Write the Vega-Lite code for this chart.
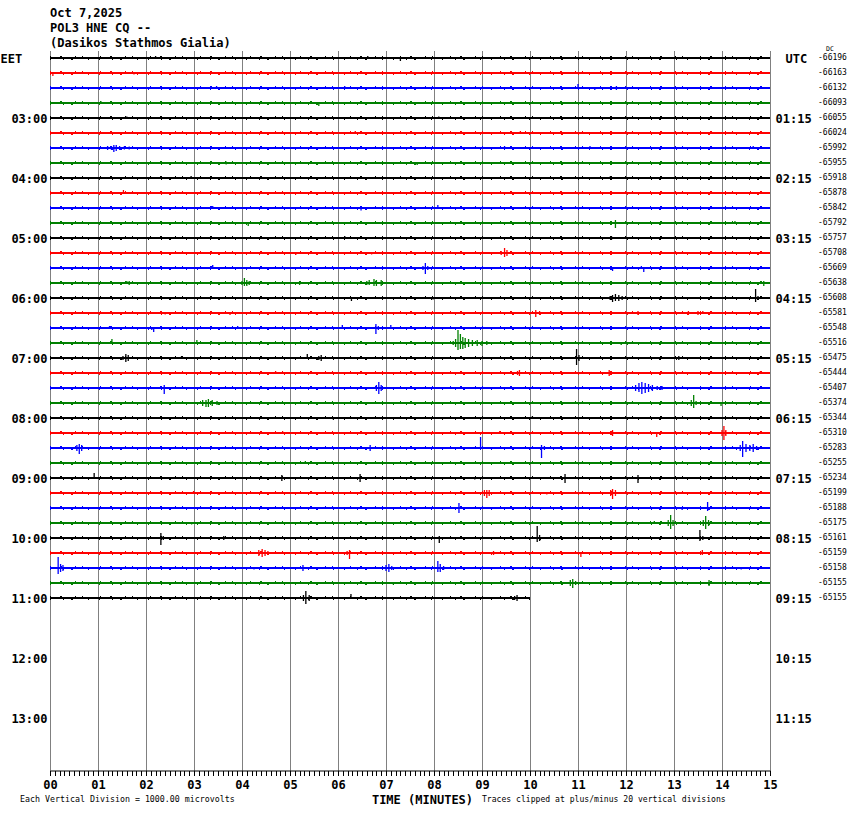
{
  "$schema": "https://vega.github.io/schema/vega-lite/v6.json",
  "width": 720,
  "height": 720,
  "autosize": {"type": "none"},
  "padding": {"left": 50, "top": 50.5, "right": 80, "bottom": 43.5},
  "background": "white",
  "title": {
    "text": ["Oct 7,2025", "POL3 HNE CQ --", "(Dasikos Stathmos Gialia)"],
    "anchor": "start", "frame": "group", "font": "DejaVu Sans Mono", "fontSize": 12,
    "fontWeight": "bold", "lineHeight": 15, "offset": 0, "dy": 4, "color": "black"
  },
  "config": {"view": {"stroke": null}},
  "datasets": {
    "traces": [
      {"y": 0, "start": 0, "end": 15, "c": "black", "dc": "-66196"},
      {"y": 15, "start": 0, "end": 15, "c": "red", "dc": "-66163"},
      {"y": 30, "start": 0, "end": 15, "c": "blue", "dc": "-66132"},
      {"y": 45, "start": 0, "end": 15, "c": "green", "dc": "-66093"},
      {"y": 60, "start": 0, "end": 15, "c": "black", "dc": "-66055"},
      {"y": 75, "start": 0, "end": 15, "c": "red", "dc": "-66024"},
      {"y": 90, "start": 0, "end": 15, "c": "blue", "dc": "-65992"},
      {"y": 105, "start": 0, "end": 15, "c": "green", "dc": "-65955"},
      {"y": 120, "start": 0, "end": 15, "c": "black", "dc": "-65918"},
      {"y": 135, "start": 0, "end": 15, "c": "red", "dc": "-65878"},
      {"y": 150, "start": 0, "end": 15, "c": "blue", "dc": "-65842"},
      {"y": 165, "start": 0, "end": 15, "c": "green", "dc": "-65792"},
      {"y": 180, "start": 0, "end": 15, "c": "black", "dc": "-65757"},
      {"y": 195, "start": 0, "end": 15, "c": "red", "dc": "-65708"},
      {"y": 210, "start": 0, "end": 15, "c": "blue", "dc": "-65669"},
      {"y": 225, "start": 0, "end": 15, "c": "green", "dc": "-65638"},
      {"y": 240, "start": 0, "end": 15, "c": "black", "dc": "-65608"},
      {"y": 255, "start": 0, "end": 15, "c": "red", "dc": "-65581"},
      {"y": 270, "start": 0, "end": 15, "c": "blue", "dc": "-65548"},
      {"y": 285, "start": 0, "end": 15, "c": "green", "dc": "-65516"},
      {"y": 300, "start": 0, "end": 15, "c": "black", "dc": "-65475"},
      {"y": 315, "start": 0, "end": 15, "c": "red", "dc": "-65444"},
      {"y": 330, "start": 0, "end": 15, "c": "blue", "dc": "-65407"},
      {"y": 345, "start": 0, "end": 15, "c": "green", "dc": "-65374"},
      {"y": 360, "start": 0, "end": 15, "c": "black", "dc": "-65344"},
      {"y": 375, "start": 0, "end": 15, "c": "red", "dc": "-65310"},
      {"y": 390, "start": 0, "end": 15, "c": "blue", "dc": "-65283"},
      {"y": 405, "start": 0, "end": 15, "c": "green", "dc": "-65255"},
      {"y": 420, "start": 0, "end": 15, "c": "black", "dc": "-65234"},
      {"y": 435, "start": 0, "end": 15, "c": "red", "dc": "-65199"},
      {"y": 450, "start": 0, "end": 15, "c": "blue", "dc": "-65188"},
      {"y": 465, "start": 0, "end": 15, "c": "green", "dc": "-65175"},
      {"y": 480, "start": 0, "end": 15, "c": "black", "dc": "-65161"},
      {"y": 495, "start": 0, "end": 15, "c": "red", "dc": "-65159"},
      {"y": 510, "start": 0, "end": 15, "c": "blue", "dc": "-65158"},
      {"y": 525, "start": 0, "end": 15, "c": "green", "dc": "-65155"},
      {"y": 540, "start": 0, "end": 10.0, "c": "black", "dc": "-65155"}
    ],
    "events": [
      {"c": "black", "t": 6.62, "y1": -2, "y2": 1}, {"c": "black", "t": 7.3, "y1": -1, "y2": 3}, {"c": "black", "t": 2.2, "y1": -2, "y2": 0.5},
      {"c": "red", "t": 0.06, "y1": 15, "y2": 18}, {"c": "red", "t": 12.0, "y1": 13, "y2": 15.5}, {"c": "red", "t": 1.75, "y1": 14, "y2": 16.5},
      {"c": "blue", "t": 3.47, "y1": 28, "y2": 30.5}, {"c": "blue", "t": 6.14, "y1": 28, "y2": 30.5}, {"c": "blue", "t": 11.0, "y1": 26, "y2": 31}, {"c": "blue", "t": 11.35, "y1": 29.5, "y2": 32}, {"c": "blue", "t": 11.8, "y1": 28, "y2": 32},
      {"c": "green", "t": 5.6, "y1": 44.5, "y2": 48}, {"c": "green", "t": 1.07, "y1": 43.5, "y2": 45.5},
      {"c": "black", "t": 1.6, "y1": 58.5, "y2": 61}, {"c": "black", "t": 8.1, "y1": 58.5, "y2": 61},
      {"c": "red", "t": 6.36, "y1": 73, "y2": 76}, {"c": "red", "t": 9.8, "y1": 73, "y2": 76},
      {"c": "blue", "t": 1.2, "y1": 88, "y2": 92}, {"c": "blue", "t": 1.28, "y1": 88, "y2": 92}, {"c": "blue", "t": 1.33, "y1": 87, "y2": 94}, {"c": "blue", "t": 1.38, "y1": 87, "y2": 93}, {"c": "blue", "t": 1.45, "y1": 88, "y2": 92}, {"c": "blue", "t": 1.55, "y1": 88, "y2": 91.5}, {"c": "blue", "t": 1.65, "y1": 88.5, "y2": 91.5}, {"c": "blue", "t": 9.47, "y1": 88, "y2": 91}, {"c": "blue", "t": 11.25, "y1": 88, "y2": 91}, {"c": "blue", "t": 14.65, "y1": 88, "y2": 91},
      {"c": "green", "t": 3.67, "y1": 103.5, "y2": 106.5}, {"c": "green", "t": 7.65, "y1": 104.5, "y2": 107},
      {"c": "black", "t": 2.94, "y1": 118, "y2": 120.5}, {"c": "black", "t": 11.67, "y1": 118.5, "y2": 121},
      {"c": "red", "t": 1.53, "y1": 132, "y2": 135.5},
      {"c": "blue", "t": 8.08, "y1": 147, "y2": 150.5}, {"c": "blue", "t": 3.39, "y1": 148, "y2": 151}, {"c": "blue", "t": 6.48, "y1": 149.5, "y2": 152.5},
      {"c": "green", "t": 4.13, "y1": 164.5, "y2": 168}, {"c": "green", "t": 11.78, "y1": 162, "y2": 170}, {"c": "green", "t": 14.27, "y1": 163, "y2": 165.5}, {"c": "green", "t": 14.82, "y1": 163.5, "y2": 166},
      {"c": "black", "t": 6.14, "y1": 178, "y2": 181}, {"c": "black", "t": 11.7, "y1": 178.5, "y2": 181.5},
      {"c": "red", "t": 9.4, "y1": 193, "y2": 197}, {"c": "red", "t": 9.47, "y1": 190, "y2": 199}, {"c": "red", "t": 9.52, "y1": 192, "y2": 198}, {"c": "red", "t": 5.12, "y1": 194.5, "y2": 197}, {"c": "red", "t": 6.7, "y1": 194.5, "y2": 196.5},
      {"c": "blue", "t": 3.39, "y1": 207, "y2": 210.5}, {"c": "blue", "t": 7.77, "y1": 208, "y2": 212}, {"c": "blue", "t": 7.82, "y1": 205, "y2": 216}, {"c": "blue", "t": 7.87, "y1": 208, "y2": 212}, {"c": "blue", "t": 11.72, "y1": 209.5, "y2": 213}, {"c": "blue", "t": 12.32, "y1": 208, "y2": 211}, {"c": "blue", "t": 12.37, "y1": 209.5, "y2": 214},
      {"c": "green", "t": 1.6, "y1": 223, "y2": 226}, {"c": "green", "t": 1.65, "y1": 223, "y2": 227}, {"c": "green", "t": 4.0, "y1": 223, "y2": 227}, {"c": "green", "t": 4.05, "y1": 220, "y2": 228}, {"c": "green", "t": 4.1, "y1": 222, "y2": 228}, {"c": "green", "t": 4.15, "y1": 223, "y2": 227}, {"c": "green", "t": 5.2, "y1": 223, "y2": 227}, {"c": "green", "t": 6.6, "y1": 223, "y2": 227}, {"c": "green", "t": 6.65, "y1": 222, "y2": 227}, {"c": "green", "t": 6.75, "y1": 221, "y2": 228}, {"c": "green", "t": 6.8, "y1": 222, "y2": 228}, {"c": "green", "t": 6.9, "y1": 222, "y2": 228}, {"c": "green", "t": 14.87, "y1": 223, "y2": 228},
      {"c": "black", "t": 6.28, "y1": 239, "y2": 243}, {"c": "black", "t": 7.98, "y1": 239, "y2": 241.5}, {"c": "black", "t": 11.67, "y1": 238, "y2": 242}, {"c": "black", "t": 11.72, "y1": 237, "y2": 244}, {"c": "black", "t": 11.78, "y1": 236, "y2": 243}, {"c": "black", "t": 11.85, "y1": 237, "y2": 243}, {"c": "black", "t": 11.92, "y1": 238, "y2": 242}, {"c": "black", "t": 14.7, "y1": 231, "y2": 244}, {"c": "black", "t": 14.75, "y1": 238, "y2": 242},
      {"c": "red", "t": 10.12, "y1": 252, "y2": 259}, {"c": "red", "t": 10.2, "y1": 253, "y2": 257}, {"c": "red", "t": 12.25, "y1": 253, "y2": 257}, {"c": "red", "t": 13.3, "y1": 253, "y2": 257}, {"c": "red", "t": 13.5, "y1": 253, "y2": 257}, {"c": "red", "t": 13.6, "y1": 253, "y2": 256}, {"c": "red", "t": 2.4, "y1": 254, "y2": 256.5}, {"c": "red", "t": 3.75, "y1": 254.5, "y2": 257},
      {"c": "blue", "t": 1.24, "y1": 268, "y2": 271}, {"c": "blue", "t": 2.12, "y1": 269, "y2": 272}, {"c": "blue", "t": 2.16, "y1": 269.5, "y2": 274}, {"c": "blue", "t": 3.1, "y1": 269, "y2": 271}, {"c": "blue", "t": 3.91, "y1": 268, "y2": 271}, {"c": "blue", "t": 6.09, "y1": 267, "y2": 271}, {"c": "blue", "t": 6.79, "y1": 266, "y2": 276}, {"c": "blue", "t": 6.84, "y1": 268, "y2": 272}, {"c": "blue", "t": 7.1, "y1": 267, "y2": 271},
      {"c": "green", "t": 1.29, "y1": 281, "y2": 286}, {"c": "green", "t": 1.95, "y1": 284, "y2": 286}, {"c": "green", "t": 3.06, "y1": 282, "y2": 286}, {"c": "green", "t": 8.4, "y1": 283, "y2": 287}, {"c": "green", "t": 8.45, "y1": 281, "y2": 289}, {"c": "green", "t": 8.5, "y1": 272, "y2": 292}, {"c": "green", "t": 8.55, "y1": 276, "y2": 291}, {"c": "green", "t": 8.6, "y1": 279, "y2": 291}, {"c": "green", "t": 8.65, "y1": 280, "y2": 290}, {"c": "green", "t": 8.72, "y1": 281, "y2": 289}, {"c": "green", "t": 8.8, "y1": 282, "y2": 288}, {"c": "green", "t": 8.9, "y1": 282, "y2": 288}, {"c": "green", "t": 9.0, "y1": 283, "y2": 288}, {"c": "green", "t": 9.1, "y1": 283, "y2": 287}, {"c": "green", "t": 11.9, "y1": 284.5, "y2": 287},
      {"c": "black", "t": 1.52, "y1": 298, "y2": 302}, {"c": "black", "t": 1.58, "y1": 296, "y2": 304}, {"c": "black", "t": 1.63, "y1": 297, "y2": 303}, {"c": "black", "t": 2.74, "y1": 298, "y2": 301}, {"c": "black", "t": 5.36, "y1": 296, "y2": 301}, {"c": "black", "t": 5.6, "y1": 298, "y2": 302}, {"c": "black", "t": 5.65, "y1": 297, "y2": 303}, {"c": "black", "t": 10.97, "y1": 291, "y2": 307}, {"c": "black", "t": 11.02, "y1": 297, "y2": 303}, {"c": "black", "t": 13.1, "y1": 298, "y2": 302},
      {"c": "red", "t": 4.7, "y1": 313, "y2": 316}, {"c": "red", "t": 9.74, "y1": 313, "y2": 317}, {"c": "red", "t": 9.78, "y1": 312, "y2": 318}, {"c": "red", "t": 11.65, "y1": 312, "y2": 318}, {"c": "red", "t": 14.8, "y1": 313, "y2": 316},
      {"c": "blue", "t": 2.38, "y1": 327, "y2": 336}, {"c": "blue", "t": 6.8, "y1": 327, "y2": 333}, {"c": "blue", "t": 6.85, "y1": 324, "y2": 336}, {"c": "blue", "t": 6.9, "y1": 327, "y2": 333}, {"c": "blue", "t": 12.2, "y1": 327, "y2": 333}, {"c": "blue", "t": 12.27, "y1": 325, "y2": 334}, {"c": "blue", "t": 12.33, "y1": 324, "y2": 336}, {"c": "blue", "t": 12.4, "y1": 325, "y2": 335}, {"c": "blue", "t": 12.47, "y1": 326, "y2": 334}, {"c": "blue", "t": 12.55, "y1": 327, "y2": 333}, {"c": "blue", "t": 12.65, "y1": 328, "y2": 332}, {"c": "blue", "t": 12.75, "y1": 328, "y2": 332},
      {"c": "green", "t": 3.18, "y1": 342, "y2": 348}, {"c": "green", "t": 3.25, "y1": 342, "y2": 349}, {"c": "green", "t": 3.3, "y1": 341, "y2": 349}, {"c": "green", "t": 3.38, "y1": 342, "y2": 348}, {"c": "green", "t": 3.48, "y1": 343, "y2": 347}, {"c": "green", "t": 3.55, "y1": 344, "y2": 346}, {"c": "green", "t": 13.36, "y1": 342, "y2": 348}, {"c": "green", "t": 13.41, "y1": 337, "y2": 350}, {"c": "green", "t": 13.46, "y1": 343, "y2": 347}, {"c": "green", "t": 13.98, "y1": 344.5, "y2": 348},
      {"c": "black", "t": 10.05, "y1": 358, "y2": 361}, {"c": "black", "t": 5.9, "y1": 359, "y2": 361.5},
      {"c": "red", "t": 9.37, "y1": 373, "y2": 376}, {"c": "red", "t": 11.68, "y1": 373, "y2": 377}, {"c": "red", "t": 11.72, "y1": 372, "y2": 378}, {"c": "red", "t": 12.64, "y1": 374.5, "y2": 379}, {"c": "red", "t": 14.0, "y1": 372, "y2": 378}, {"c": "red", "t": 14.04, "y1": 368, "y2": 382}, {"c": "red", "t": 14.08, "y1": 372, "y2": 378}, {"c": "red", "t": 4.85, "y1": 373.5, "y2": 376},
      {"c": "blue", "t": 0.56, "y1": 387, "y2": 393}, {"c": "blue", "t": 0.61, "y1": 386, "y2": 396}, {"c": "blue", "t": 0.66, "y1": 387, "y2": 393}, {"c": "blue", "t": 6.67, "y1": 387, "y2": 393}, {"c": "blue", "t": 8.97, "y1": 379, "y2": 391}, {"c": "blue", "t": 10.24, "y1": 387, "y2": 400}, {"c": "blue", "t": 10.3, "y1": 388, "y2": 392}, {"c": "blue", "t": 14.38, "y1": 387, "y2": 393}, {"c": "blue", "t": 14.43, "y1": 383, "y2": 399}, {"c": "blue", "t": 14.5, "y1": 386, "y2": 394}, {"c": "blue", "t": 14.58, "y1": 387, "y2": 393}, {"c": "blue", "t": 14.65, "y1": 386, "y2": 394}, {"c": "blue", "t": 14.72, "y1": 388, "y2": 392},
      {"c": "green", "t": 5.32, "y1": 403, "y2": 406},
      {"c": "black", "t": 0.92, "y1": 415, "y2": 421}, {"c": "black", "t": 4.83, "y1": 417, "y2": 423}, {"c": "black", "t": 6.46, "y1": 416, "y2": 424}, {"c": "black", "t": 10.73, "y1": 416, "y2": 425}, {"c": "black", "t": 12.25, "y1": 417, "y2": 425}, {"c": "black", "t": 8.85, "y1": 419, "y2": 421.5},
      {"c": "red", "t": 9.05, "y1": 432, "y2": 438}, {"c": "red", "t": 9.1, "y1": 432, "y2": 440}, {"c": "red", "t": 9.15, "y1": 432, "y2": 438}, {"c": "red", "t": 11.68, "y1": 432, "y2": 438}, {"c": "red", "t": 11.72, "y1": 431, "y2": 441}, {"c": "red", "t": 11.78, "y1": 432, "y2": 438}, {"c": "red", "t": 2.99, "y1": 433, "y2": 436}, {"c": "red", "t": 10.35, "y1": 434, "y2": 436.5},
      {"c": "blue", "t": 8.52, "y1": 445, "y2": 455}, {"c": "blue", "t": 13.7, "y1": 444, "y2": 453}, {"c": "blue", "t": 13.17, "y1": 449.5, "y2": 452},
      {"c": "green", "t": 12.59, "y1": 463, "y2": 466}, {"c": "green", "t": 12.88, "y1": 462, "y2": 468}, {"c": "green", "t": 12.93, "y1": 457, "y2": 471}, {"c": "green", "t": 12.98, "y1": 462, "y2": 468}, {"c": "green", "t": 13.61, "y1": 462, "y2": 468}, {"c": "green", "t": 13.66, "y1": 458, "y2": 471}, {"c": "green", "t": 13.72, "y1": 462, "y2": 468}, {"c": "green", "t": 2.95, "y1": 464, "y2": 466.5},
      {"c": "black", "t": 2.31, "y1": 475, "y2": 487}, {"c": "black", "t": 2.36, "y1": 478, "y2": 482}, {"c": "black", "t": 3.62, "y1": 478, "y2": 482}, {"c": "black", "t": 8.11, "y1": 478, "y2": 485}, {"c": "black", "t": 10.15, "y1": 468, "y2": 484}, {"c": "black", "t": 10.2, "y1": 477, "y2": 483}, {"c": "black", "t": 13.54, "y1": 472, "y2": 483}, {"c": "black", "t": 13.6, "y1": 478, "y2": 482},
      {"c": "red", "t": 4.35, "y1": 492, "y2": 498}, {"c": "red", "t": 4.42, "y1": 491, "y2": 499}, {"c": "red", "t": 4.48, "y1": 492, "y2": 498}, {"c": "red", "t": 4.54, "y1": 493, "y2": 497}, {"c": "red", "t": 6.19, "y1": 493, "y2": 497}, {"c": "red", "t": 6.24, "y1": 492, "y2": 501}, {"c": "red", "t": 9.24, "y1": 493, "y2": 497}, {"c": "red", "t": 11.06, "y1": 494.5, "y2": 499}, {"c": "red", "t": 13.59, "y1": 492, "y2": 497},
      {"c": "blue", "t": 0.17, "y1": 499, "y2": 516}, {"c": "blue", "t": 0.22, "y1": 506, "y2": 514}, {"c": "blue", "t": 0.27, "y1": 507, "y2": 513}, {"c": "blue", "t": 4.25, "y1": 509, "y2": 511.5}, {"c": "blue", "t": 5.27, "y1": 507, "y2": 513}, {"c": "blue", "t": 7.0, "y1": 507, "y2": 513}, {"c": "blue", "t": 7.06, "y1": 506, "y2": 514}, {"c": "blue", "t": 7.12, "y1": 508, "y2": 512}, {"c": "blue", "t": 8.08, "y1": 503, "y2": 514}, {"c": "blue", "t": 8.13, "y1": 506, "y2": 514}, {"c": "blue", "t": 8.2, "y1": 508, "y2": 512}, {"c": "blue", "t": 14.4, "y1": 509, "y2": 511.5},
      {"c": "green", "t": 10.84, "y1": 522, "y2": 528}, {"c": "green", "t": 10.89, "y1": 521, "y2": 530}, {"c": "green", "t": 10.95, "y1": 523, "y2": 527}, {"c": "green", "t": 13.73, "y1": 522, "y2": 528}, {"c": "green", "t": 7.15, "y1": 524, "y2": 526.5},
      {"c": "black", "t": 5.28, "y1": 537, "y2": 543}, {"c": "black", "t": 5.33, "y1": 533, "y2": 546}, {"c": "black", "t": 5.4, "y1": 537, "y2": 543}, {"c": "black", "t": 6.27, "y1": 536, "y2": 541}, {"c": "black", "t": 9.68, "y1": 538, "y2": 542}, {"c": "black", "t": 9.73, "y1": 537, "y2": 543}
    ]
  },
  "layer": [
    {
      "data": {"name": "traces"},
      "mark": {"type": "rule", "strokeWidth": 2},
      "encoding": {
        "x": {
          "field": "start", "type": "quantitative",
          "scale": {"domain": [0, 15], "nice": false, "zero": false},
          "axis": {
            "tickCount": 150,
            "labelExpr": "datum.value % 1 === 0 ? format(datum.value, '02d') : ''",
            "labelOverlap": false, "labelFlush": false, "labelBound": false,
            "grid": true, "gridColor": "#808080", "gridWidth": 1,
            "gridOpacity": {"condition": {"test": "datum.value % 1 === 0", "value": 1}, "value": 0},
            "domainColor": "black", "domainWidth": 1, "tickColor": "black", "tickSize": 5, "tickWidth": 1,
            "labelFont": "DejaVu Sans Mono", "labelFontWeight": "bold", "labelFontSize": 12, "labelColor": "black", "labelPadding": 4,
            "title": "TIME (MINUTES)", "titleFont": "DejaVu Sans Mono", "titleFontSize": 12, "titleFontWeight": "bold", "titleColor": "black",
            "titleX": 372, "titleY": 29, "titleAlign": "center", "titleBaseline": "middle", "titleAnchor": "start"
          }
        },
        "x2": {"field": "end"},
        "y": {
          "field": "y", "type": "quantitative",
          "scale": {"domain": [-7.5, 712.5], "reverse": true, "nice": false, "zero": false},
          "axis": {
            "orient": "left",
            "values": [60, 120, 180, 240, 300, 360, 420, 480, 540, 600, 660],
            "labelExpr": "(floor(datum.value/60)+2 < 10 ? '0' : '') + (floor(datum.value/60)+2) + ':00'",
            "ticks": false, "domain": false, "grid": false, "labelPadding": 3,
            "labelFont": "DejaVu Sans Mono", "labelFontWeight": "bold", "labelFontSize": 12, "labelColor": "black",
            "title": "EET", "titleAngle": 0, "titleX": -50, "titleY": 7.5, "titleAlign": "left", "titleBaseline": "middle",
            "titleFont": "DejaVu Sans Mono", "titleFontWeight": "bold", "titleFontSize": 12, "titleColor": "black"
          }
        },
        "color": {"field": "c", "type": "nominal", "scale": {"domain": ["black", "red", "blue", "green"], "range": ["#000000", "#ff0000", "#0000ff", "#008000"]}, "legend": null}
      }
    },
    {
      "data": {"name": "traces"},
      "mark": {"type": "rule", "strokeWidth": 1, "yOffset": -1.5, "strokeDash": [1, 9, 2, 13, 1, 6, 1, 17]},
      "encoding": {
        "x": {"field": "start", "type": "quantitative", "scale": {"domain": [0, 15], "nice": false, "zero": false}},
        "x2": {"field": "end"},
        "y": {"field": "y", "type": "quantitative", "scale": {"domain": [-7.5, 712.5], "reverse": true, "nice": false, "zero": false}, "axis": null},
        "color": {"field": "c", "type": "nominal", "scale": {"domain": ["black", "red", "blue", "green"], "range": ["#000000", "#ff0000", "#0000ff", "#008000"]}, "legend": null}
      }
    },
    {
      "data": {"name": "traces"},
      "mark": {"type": "rule", "strokeWidth": 1, "yOffset": 1.5, "strokeDash": [1, 12, 1, 7, 2, 15, 1, 10]},
      "encoding": {
        "x": {"field": "start", "type": "quantitative", "scale": {"domain": [0, 15], "nice": false, "zero": false}},
        "x2": {"field": "end"},
        "y": {"field": "y", "type": "quantitative", "scale": {"domain": [-7.5, 712.5], "reverse": true, "nice": false, "zero": false}, "axis": null},
        "color": {"field": "c", "type": "nominal", "scale": {"domain": ["black", "red", "blue", "green"], "range": ["#000000", "#ff0000", "#0000ff", "#008000"]}, "legend": null}
      }
    },
    {
      "data": {"name": "events"},
      "mark": {"type": "rule", "strokeWidth": 1.3},
      "encoding": {
        "x": {"field": "t", "type": "quantitative", "scale": {"domain": [0, 15], "nice": false, "zero": false}},
        "y": {"field": "y1", "type": "quantitative", "scale": {"domain": [-7.5, 712.5], "reverse": true, "nice": false, "zero": false}, "axis": null},
        "y2": {"field": "y2"},
        "color": {"field": "c", "type": "nominal", "scale": {"domain": ["black", "red", "blue", "green"], "range": ["#000000", "#ff0000", "#0000ff", "#008000"]}, "legend": null}
      }
    },
    {
      "data": {"name": "traces"},
      "mark": {"type": "text", "align": "left", "baseline": "middle", "dx": 48, "font": "DejaVu Sans Mono", "fontSize": 8, "color": "black"},
      "encoding": {
        "x": {"datum": 15, "type": "quantitative", "scale": {"domain": [0, 15], "nice": false, "zero": false}},
        "y": {
          "field": "y", "type": "quantitative",
          "scale": {"domain": [-7.5, 712.5], "reverse": true, "nice": false, "zero": false},
          "axis": {
            "orient": "right",
            "values": [60, 120, 180, 240, 300, 360, 420, 480, 540, 600, 660],
            "labelExpr": "(floor(datum.value/60) < 10 ? '0' : '') + floor(datum.value/60) + ':15'",
            "ticks": false, "domain": false, "grid": false, "labelPadding": 5,
            "labelFont": "DejaVu Sans Mono", "labelFontWeight": "bold", "labelFontSize": 12, "labelColor": "black",
            "title": "UTC", "titleAngle": 0, "titleX": 15, "titleY": 7.5, "titleAlign": "left", "titleBaseline": "middle",
            "titleFont": "DejaVu Sans Mono", "titleFontWeight": "bold", "titleFontSize": 12, "titleColor": "black"
          }
        },
        "text": {"field": "dc"}
      }
    },
    {
      "data": {"values": [{}]},
      "mark": {"type": "text", "align": "center", "baseline": "middle", "font": "DejaVu Sans Mono", "fontSize": 6.5, "color": "black"},
      "encoding": {
        "x": {"datum": 16.25, "type": "quantitative", "scale": {"domain": [0, 15], "nice": false, "zero": false}},
        "y": {"datum": -9.5, "type": "quantitative", "scale": {"domain": [-7.5, 712.5], "reverse": true, "nice": false, "zero": false}, "axis": null},
        "text": {"value": "DC"}
      }
    },
    {
      "data": {"values": [{}]},
      "mark": {"type": "text", "align": "left", "baseline": "middle", "font": "DejaVu Sans Mono", "fontSize": 8.3, "color": "black"},
      "encoding": {
        "x": {"datum": -0.625, "type": "quantitative", "scale": {"domain": [0, 15], "nice": false, "zero": false}},
        "y": {"datum": 742, "type": "quantitative", "scale": {"domain": [-7.5, 712.5], "reverse": true, "nice": false, "zero": false}, "axis": null},
        "text": {"value": "Each Vertical Division = 1000.00 microvolts"}
      }
    },
    {
      "data": {"values": [{}]},
      "mark": {"type": "text", "align": "left", "baseline": "middle", "font": "DejaVu Sans Mono", "fontSize": 8.1, "color": "black"},
      "encoding": {
        "x": {"datum": 9.0, "type": "quantitative", "scale": {"domain": [0, 15], "nice": false, "zero": false}},
        "y": {"datum": 742, "type": "quantitative", "scale": {"domain": [-7.5, 712.5], "reverse": true, "nice": false, "zero": false}, "axis": null},
        "text": {"value": "Traces clipped at plus/minus 20 vertical divisions"}
      }
    }
  ],
  "resolve": {"axis": {"y": "independent"}}
}
